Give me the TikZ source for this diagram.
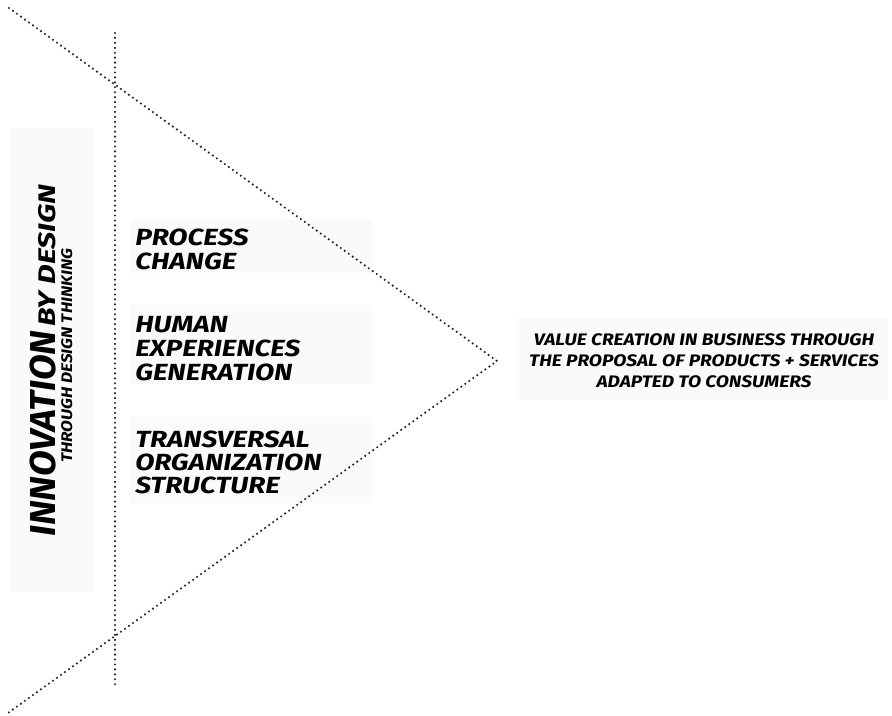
\documentclass[tikz,border=0pt]{standalone}
\usepackage{fontspec}
\usepackage{graphicx}
\newfontfamily\brush{Fira Sans}
\newcommand\widen[2]{\scalebox{#1}[1]{#2}}
\begin{document}
\begin{tikzpicture}[x=0.75pt,y=-0.75pt,
  panel/.style={fill=black!2,draw=none},
  dotline/.style={draw=black!85,line width=1.8pt,line cap=round,dash pattern=on 0pt off 3.7pt},
  brushtxt/.style={inner sep=0pt,text=black,font=\brush\bfseries\itshape}]
\useasboundingbox (0,0) rectangle (892,715);
% panels
\path[panel] (9,128) rectangle (95,592);
\path[panel] (130,220) rectangle (372,273);
\path[panel] (130,305) rectangle (372,384);
\path[panel] (130,417) rectangle (372,503);
\path[panel] (517,318) rectangle (888,400);
% dotted triangle and vertical line
\coordinate (tl) at (9,8);
\coordinate (apex) at (497,361);
\coordinate (bl) at (8,713);
\coordinate (vt) at (115,33);
\coordinate (vb) at (115,688);
\draw[dotline] (tl) -- (apex) -- (bl);
\draw[dotline] (vt) -- (vb);
% left rotated title
\node[brushtxt,rotate=90,anchor=base west] (title) at (55,537)
  {{\fontsize{27}{27}\selectfont\widen{1.04}{INNOVATION}}{\fontsize{18}{18}\selectfont\,\widen{1.27}{BY DESIGN}}};
\node[brushtxt,rotate=90,anchor=base west] (subtitle) at (72,463)
  {\fontsize{11.5}{11.5}\selectfont\widen{1.12}{THROUGH DESIGN THINKING}};
% middle items
\node[brushtxt,anchor=base west,font=\brush\bfseries\itshape\fontsize{17.5}{18}\selectfont] (process) at (135,245)
  {\widen{1.2}{\begin{tabular}[t]{@{}l@{}}PROCESS\\CHANGE\end{tabular}}};
\node[brushtxt,anchor=base west,font=\brush\bfseries\itshape\fontsize{17.5}{18}\selectfont] (human) at (135,332)
  {\widen{1.2}{\begin{tabular}[t]{@{}l@{}}HUMAN\\EXPERIENCES\\GENERATION\end{tabular}}};
\node[brushtxt,anchor=base west,font=\brush\bfseries\itshape\fontsize{17.5}{17.3}\selectfont] (trans) at (135,447)
  {\widen{1.2}{\begin{tabular}[t]{@{}l@{}}TRANSVERSAL\\ORGANIZATION\\STRUCTURE\end{tabular}}};
% right text
\node[brushtxt,anchor=base,font=\brush\bfseries\itshape\fontsize{12.5}{16}\selectfont] (value) at (704,345)
  {\widen{1.15}{\begin{tabular}[t]{@{}c@{}}VALUE CREATION IN BUSINESS THROUGH\\THE PROPOSAL OF PRODUCTS + SERVICES\\ADAPTED TO CONSUMERS\end{tabular}}};
\end{tikzpicture}
\end{document}
